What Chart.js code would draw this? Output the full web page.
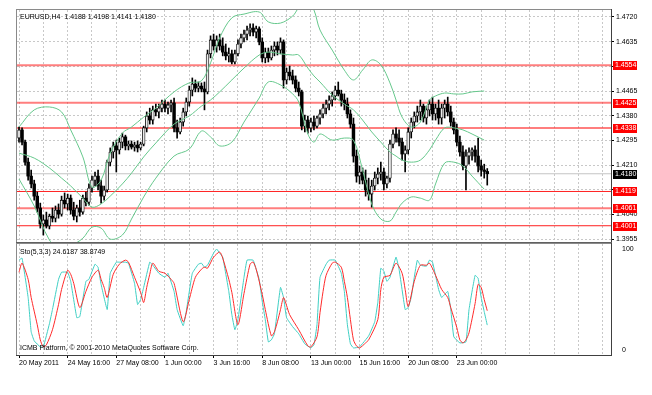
<!DOCTYPE html>
<html><head><meta charset="utf-8">
<script src="https://cdn.jsdelivr.net/npm/chart.js@4.4.1/dist/chart.umd.min.js"></script>
<style>
html,body{margin:0;padding:0;background:#fff;overflow:hidden}
canvas{position:absolute;left:0;display:block}
</style></head><body>
<canvas id="main" width="652" height="243" style="top:0"></canvas>
<canvas id="sto" width="652" height="152" style="top:243px"></canvas>
<script>
// ---------------- DATA ----------------
const barOpen = [1.4303,1.4331,1.4289,1.4220,1.4172,1.4145,1.4103,1.4062,1.4007,1.4021,
1.4000,1.4034,1.4027,1.4055,1.4041,1.4089,1.4076,1.4096,1.4055,1.4034,
1.4062,1.4048,1.4096,1.4082,1.4131,1.4158,1.4172,1.4138,1.4103,1.4124,
1.4220,1.4255,1.4276,1.4262,1.4289,1.4307,1.4276,1.4282,1.4272,1.4279,
1.4269,1.4282,1.4338,1.4379,1.4365,1.4400,1.4393,1.4406,1.4420,1.4406,
1.4417,1.4424,1.4338,1.4324,1.4358,1.4393,1.4427,1.4468,1.4489,1.4475,
1.4482,1.4472,1.4462,1.4593,1.4641,1.4620,1.4641,1.4620,1.4599,1.4586,
1.4593,1.4565,1.4593,1.4627,1.4648,1.4661,1.4675,1.4682,1.4668,1.4679,
1.4634,1.4579,1.4599,1.4579,1.4606,1.4620,1.4606,1.4634,1.4503,1.4530,
1.4517,1.4503,1.4475,1.4462,1.4344,1.4365,1.4338,1.4358,1.4344,1.4372,
1.4386,1.4406,1.4420,1.4434,1.4448,1.4468,1.4455,1.4434,1.4420,1.4386,
1.4351,1.4241,1.4172,1.4186,1.4158,1.4124,1.4110,1.4138,1.4165,1.4179,
1.4186,1.4145,1.4165,1.4282,1.4317,1.4303,1.4289,1.4248,1.4262,1.4324,
1.4358,1.4379,1.4393,1.4413,1.4372,1.4400,1.4420,1.4386,1.4406,1.4372,
1.4406,1.4420,1.4393,1.4358,1.4331,1.4289,1.4255,1.4207,1.4241,1.4255,
1.4262,1.4241,1.4207,1.4193,1.4188];
const barHigh = [1.4341,1.4338,1.4296,1.4234,1.4193,1.4158,1.4117,1.4079,1.4038,1.4048,
1.4041,1.4062,1.4069,1.4076,1.4103,1.4114,1.4110,1.4107,1.4082,1.4072,
1.4089,1.4107,1.4117,1.4145,1.4172,1.4186,1.4193,1.4158,1.4138,1.4227,
1.4269,1.4289,1.4296,1.4303,1.4320,1.4313,1.4293,1.4293,1.4289,1.4293,
1.4289,1.4344,1.4393,1.4406,1.4413,1.4420,1.4420,1.4434,1.4434,1.4427,
1.4434,1.4441,1.4365,1.4372,1.4406,1.4441,1.4482,1.4510,1.4503,1.4496,
1.4493,1.4496,1.4606,1.4655,1.4661,1.4655,1.4661,1.4648,1.4627,1.4613,
1.4606,1.4606,1.4641,1.4661,1.4675,1.4689,1.4696,1.4696,1.4689,1.4686,
1.4648,1.4613,1.4613,1.4620,1.4634,1.4634,1.4648,1.4641,1.4544,1.4551,
1.4537,1.4517,1.4496,1.4468,1.4382,1.4379,1.4372,1.4379,1.4379,1.4400,
1.4420,1.4434,1.4448,1.4462,1.4482,1.4496,1.4468,1.4455,1.4441,1.4400,
1.4372,1.4262,1.4207,1.4200,1.4193,1.4165,1.4158,1.4186,1.4200,1.4220,
1.4200,1.4172,1.4296,1.4331,1.4338,1.4331,1.4303,1.4276,1.4338,1.4372,
1.4393,1.4413,1.4434,1.4420,1.4413,1.4434,1.4444,1.4420,1.4434,1.4420,
1.4434,1.4444,1.4413,1.4372,1.4351,1.4310,1.4276,1.4262,1.4269,1.4269,
1.4276,1.4303,1.4227,1.4213,1.4198];
const barLow = [1.4289,1.4279,1.4210,1.4158,1.4131,1.4089,1.4048,1.3993,1.3969,1.3993,
1.3990,1.4014,1.4014,1.4027,1.4034,1.4062,1.4055,1.4041,1.4021,1.4014,
1.4034,1.4041,1.4069,1.4072,1.4117,1.4138,1.4124,1.4079,1.4089,1.4117,
1.4207,1.4234,1.4186,1.4248,1.4269,1.4262,1.4262,1.4265,1.4258,1.4255,
1.4262,1.4276,1.4324,1.4351,1.4351,1.4379,1.4372,1.4393,1.4393,1.4386,
1.4393,1.4324,1.4303,1.4317,1.4344,1.4379,1.4413,1.4448,1.4462,1.4462,
1.4462,1.4400,1.4455,1.4579,1.4606,1.4599,1.4606,1.4586,1.4572,1.4565,
1.4558,1.4558,1.4586,1.4613,1.4634,1.4641,1.4655,1.4655,1.4648,1.4624,
1.4565,1.4562,1.4565,1.4572,1.4586,1.4589,1.4593,1.4475,1.4489,1.4503,
1.4489,1.4462,1.4448,1.4331,1.4324,1.4320,1.4324,1.4331,1.4338,1.4351,
1.4372,1.4386,1.4400,1.4413,1.4434,1.4448,1.4413,1.4400,1.4372,1.4338,
1.4220,1.4151,1.4145,1.4145,1.4103,1.4089,1.4065,1.4124,1.4145,1.4158,
1.4124,1.4131,1.4151,1.4269,1.4289,1.4276,1.4227,1.4186,1.4248,1.4303,
1.4338,1.4358,1.4365,1.4358,1.4351,1.4379,1.4365,1.4365,1.4351,1.4351,
1.4372,1.4379,1.4344,1.4317,1.4276,1.4241,1.4193,1.4124,1.4213,1.4227,
1.4220,1.4186,1.4172,1.4165,1.4141];
const barClose = [1.4331,1.4289,1.4220,1.4172,1.4145,1.4103,1.4062,1.4007,1.4021,1.4000,
1.4034,1.4027,1.4055,1.4041,1.4089,1.4076,1.4096,1.4055,1.4034,1.4062,
1.4048,1.4096,1.4082,1.4131,1.4158,1.4172,1.4138,1.4103,1.4124,1.4220,
1.4255,1.4276,1.4262,1.4289,1.4307,1.4276,1.4282,1.4272,1.4279,1.4269,
1.4282,1.4338,1.4379,1.4365,1.4400,1.4393,1.4406,1.4420,1.4406,1.4417,
1.4424,1.4338,1.4324,1.4358,1.4393,1.4427,1.4468,1.4489,1.4475,1.4482,
1.4472,1.4462,1.4593,1.4641,1.4620,1.4641,1.4620,1.4599,1.4586,1.4593,
1.4565,1.4593,1.4627,1.4648,1.4661,1.4675,1.4682,1.4668,1.4679,1.4634,
1.4579,1.4599,1.4579,1.4606,1.4620,1.4606,1.4634,1.4503,1.4530,1.4517,
1.4503,1.4475,1.4462,1.4344,1.4365,1.4338,1.4358,1.4344,1.4372,1.4386,
1.4406,1.4420,1.4434,1.4448,1.4468,1.4455,1.4434,1.4420,1.4386,1.4351,
1.4241,1.4172,1.4186,1.4158,1.4124,1.4110,1.4138,1.4165,1.4179,1.4186,
1.4145,1.4165,1.4282,1.4317,1.4303,1.4289,1.4248,1.4262,1.4324,1.4358,
1.4379,1.4393,1.4413,1.4372,1.4400,1.4420,1.4386,1.4406,1.4372,1.4406,
1.4420,1.4393,1.4358,1.4331,1.4289,1.4255,1.4207,1.4241,1.4255,1.4262,
1.4241,1.4207,1.4193,1.4188,1.4180];

// Bollinger Bands (20,2): upper / middle / lower, read at sampled bars
const bandBars = [0,5,10,14,17,21,24,27,30,34,37,41,45,51,56,60,63,66,70,74,79,82,86,90,92,95,97,99,103,107,110,113,116,119,122,124,126,129,132,135,137,140,143,146,149,153];
const bandUpper = [1.4341,1.4400,1.4410,1.4393,1.4331,1.4238,1.4134,1.4158,1.4251,1.4320,1.4341,1.4375,1.4406,1.4462,1.4493,1.4500,1.4562,1.4648,1.4717,1.4730,1.4737,1.4703,1.4699,1.4723,1.4751,1.4772,1.4744,1.4675,1.4606,1.4537,1.4503,1.4537,1.4572,1.4555,1.4493,1.4434,1.4375,1.4341,1.4358,1.4434,1.4448,1.4458,1.4455,1.4455,1.4462,1.4465];
const bandMiddle = [1.4251,1.4234,1.4200,1.4165,1.4138,1.4096,1.4065,1.4076,1.4103,1.4145,1.4182,1.4238,1.4286,1.4351,1.4379,1.4413,1.4434,1.4462,1.4503,1.4544,1.4589,1.4599,1.4593,1.4589,1.4589,1.4544,1.4517,1.4496,1.4451,1.4420,1.4400,1.4365,1.4324,1.4289,1.4255,1.4241,1.4227,1.4220,1.4227,1.4262,1.4296,1.4338,1.4338,1.4331,1.4317,1.4296];
const bandLower = [1.4162,1.4069,1.3952,1.3917,1.3931,1.3958,1.3996,1.3993,1.3955,1.3969,1.4024,1.4100,1.4165,1.4241,1.4265,1.4327,1.4307,1.4276,1.4289,1.4358,1.4441,1.4496,1.4486,1.4455,1.4427,1.4317,1.4289,1.4317,1.4296,1.4303,1.4296,1.4193,1.4076,1.4024,1.4017,1.4048,1.4079,1.4100,1.4096,1.4089,1.4145,1.4217,1.4220,1.4207,1.4172,1.4127];

// Stochastic (5,3,3) — main %K and signal %D, read at sampled bars
const stoKBars = [0,1,3,4,5,7,8,10,11,13,14,16,17,19,20,22,23,25,26,27,29,30,32,33,35,36,38,39,40,41,43,44,46,48,49,51,52,54,55,57,59,60,61,62,64,65,66,67,69,70,71,72,74,75,77,78,79,80,81,82,83,84,86,87,88,90,92,94,96,97,98,99,101,102,104,106,107,108,109,110,112,115,117,118,119,120,121,122,124,125,127,128,129,130,131,132,134,135,136,138,139,141,142,143,145,147,148,150,151,152,153,154];
const stoKVals = [89,91,52,18,9,3,3,26,40,70,77,77,68,32,33,68,70,85,82,65,40,76,87,87,87,86,66,45,50,62,87,84,76,72,76,58,40,24,38,76,85,86,82,84,96,100,96,92,58,35,20,30,72,89,89,80,70,48,30,8,10,16,62,52,32,23,16,6,2,5,25,72,85,89,89,76,58,25,6,2,3,14,28,47,81,78,68,72,92,80,40,42,52,72,89,84,83,89,87,60,52,58,40,13,7,8,40,74,71,52,38,24.6187];
const stoDBars = [0,1,3,4,6,7,8,9,11,13,14,16,17,18,20,22,24,26,27,28,29,31,33,35,36,38,40,41,42,43,44,46,48,50,51,54,56,58,60,61,62,64,66,67,69,70,72,74,76,77,78,80,81,83,84,85,86,87,88,89,92,95,96,98,99,100,101,103,104,106,107,108,109,110,111,112,114,115,118,119,120,122,124,126,127,128,130,132,134,135,137,139,141,142,144,145,146,147,148,150,151,152,153,154];
const stoDVals = [77,86,70,52,25,10,3,5,20,45,60,79,75,66,42,58,72,79,70,62,52,75,85,89,87,72,57,47,62,75,86,78,76,70,66,28,50,72,80,82,81,92,97,91,70,57,25,56,85,87,80,55,40,14,18,28,40,52,44,35,20,4,3,13,37,58,74,86,87,82,68,52,30,10,4,2,7,10,30,60,72,74,86,76,60,43,68,84,84,86,74,60,52,42,22,10,7,10,17,46,65,62,50,38.8749];

// Axis ticks and labels
const gridBars = [0,8,16,24,32,40,48,56,64,72,80,88,96,104,112,120,128,136,144,152,160,168,176,184,192];
const xTickBars = [0,16,32,48,64,80,96,112,128,144];
const xTickLabels = ['20 May 2011','24 May 16:00','27 May 08:00','1 Jun 00:00','3 Jun 16:00','8 Jun 08:00','13 Jun 00:00','15 Jun 16:00','20 Jun 08:00','23 Jun 00:00'];
const priceTicks = [1.3955,1.4040,1.4125,1.4210,1.4295,1.4380,1.4465,1.4550,1.4635,1.4720];
const stoTicks = [0,100];
// Horizontal levels (red lines) and current bid
const levelPrices = [1.4554,1.4425,1.4338,1.4119,1.4061,1.4001];
const levelThick = [true,true,true,false,true,false];
const bidPrice = 1.4180;
const headerText = 'EURUSD,H4  1.4188 1.4198 1.4141 1.4180';
const stoTitle = 'Sto(5,3,3) 24.6187 38.8749';
const footerText = 'ICMB Platform, \u00A9 2001-2010 MetaQuotes Software Corp.';

// ---------------- STYLE ----------------
const FONT = "'Liberation Sans', Arial, sans-serif";
const FS = 7;
const X_MIN = -0.66, X_MAX = 194.7;
const GRID_COL = '#c8c8c8';
const BAND_COL = '#66c88c';

function noPad(s) { s.paddingTop = 0; s.paddingBottom = 0; s.paddingLeft = 0; s.paddingRight = 0; }

function xAxisOpts(showLabels) {
  return {
    type: 'linear', min: X_MIN, max: X_MAX, offset: false,
    afterBuildTicks: s => { s.ticks = gridBars.map(v => ({value: v})); },
    afterFit: s => { s.height = showLabels ? 40 : 0; noPad(s); },
    grid: {
      color: GRID_COL, lineWidth: 1, offset: false, borderDash: [2, 2],
      drawTicks: showLabels, tickLength: 3,
      tickColor: c => (c.tick && xTickBars.includes(c.tick.value)) ? '#000' : 'rgba(0,0,0,0)'
    },
    border: {display: false, dash: [2, 2]},
    ticks: {
      display: showLabels, autoSkip: false, maxRotation: 0, minRotation: 0, align: 'start', padding: 1,
      font: {family: FONT, size: FS}, color: '#000',
      callback: v => { const k = xTickBars.indexOf(v); return k >= 0 ? xTickLabels[k] : ''; }
    }
  };
}

const frame = {
  id: 'frame',
  afterDraw(chart, args, o) {
    const {ctx, chartArea: a} = chart;
    ctx.save();
    ctx.strokeStyle = '#8a8a8a'; ctx.lineWidth = 1;
    ctx.strokeRect(a.left - 0.5, a.top - 0.5, a.right - a.left + 1, a.bottom - a.top + 1);
    ctx.strokeStyle = '#404040';
    ctx.beginPath(); ctx.moveTo(a.right + 0.5, a.top - 1); ctx.lineTo(a.right + 0.5, a.bottom + 1); ctx.stroke();
    ctx.font = FS + 'px ' + FONT; ctx.textBaseline = 'middle'; ctx.textAlign = 'left'; ctx.fillStyle = '#000';
    if (o.kind === 'main') {
      ctx.fillStyle = '#606060'; ctx.fillRect(a.left - 1, a.bottom, a.right - a.left + 2, 2);
      ctx.fillStyle = '#000';
      ctx.fillText(headerText, 20, 17);
      const ys = chart.scales.y;
      const boxes = levelPrices.map(p => [p, '#ff0000']).concat([[bidPrice, '#000000']]);
      boxes.forEach(([p, col]) => {
        const y = Math.round(ys.getPixelForValue(p));
        ctx.fillStyle = col; ctx.fillRect(a.right + 2, y - 4, 24, 9);
        ctx.fillStyle = '#fff'; ctx.fillText(p.toFixed(4), a.right + 4, y + 0.5);
      });
    } else {
      ctx.fillStyle = '#404040'; ctx.fillRect(a.left - 1, a.bottom, a.right - a.left + 2, 1);
      ctx.fillStyle = '#000';
      ctx.fillText(stoTitle, 20, 9);
      ctx.fillText(footerText, 20, 105.5);
    }
    ctx.restore();
  }
};

// ---------------- MAIN CHART ----------------
const wickData = barHigh.map((h, i) => ({x: i, y: [barLow[i], h]}));
const bodyData = barOpen.map((o, i) => ({x: i, y: [o, barClose[i]]}));
const bull = barOpen.map((o, i) => barClose[i] >= o);
const levelSets = levelPrices.map((p, k) => ({
  type: 'line', data: [{x: X_MIN, y: p}, {x: X_MAX, y: p}],
  borderColor: levelThick[k] ? 'rgba(255,40,40,0.6)' : '#ff2020', borderWidth: levelThick[k] ? 2 : 1,
  pointRadius: 0, order: 6
}));
const bandSet = vals => ({type: 'line', data: bandBars.map((b, i) => ({x: b, y: vals[i]})),
  borderColor: BAND_COL, borderWidth: 1, pointRadius: 0, tension: 0.35, order: 0});

new Chart(document.getElementById('main'), {
  type: 'bar',
  data: {
    datasets: [
      bandSet(bandUpper), bandSet(bandMiddle), bandSet(bandLower),
      {type: 'bar', data: bodyData, grouped: false, barThickness: 2.8, borderSkipped: false,
       backgroundColor: bull.map(b => b ? '#ececec' : '#000'), borderColor: '#000', borderWidth: bull.map(b => b ? 0.8 : 0), order: 1},
      {type: 'bar', data: wickData, grouped: false, barThickness: 1, backgroundColor: '#000', borderWidth: 0, order: 2},
      {type: 'line', data: [{x: X_MIN, y: bidPrice}, {x: X_MAX, y: bidPrice}], borderColor: '#c4c4c4', borderWidth: 1, pointRadius: 0, order: 5},
      ...levelSets
    ]
  },
  options: {
    responsive: false, animation: false, events: [],
    layout: {padding: {left: 17, top: 10, right: 0, bottom: 1}},
    plugins: {legend: {display: false}, tooltip: {enabled: false}, frame: {kind: 'main'}},
    scales: {
      x: xAxisOpts(false),
      y: {
        position: 'right', min: 1.3945, max: 1.4744, beginAtZero: false,
        afterBuildTicks: s => { s.ticks = priceTicks.map(v => ({value: v})); },
        afterFit: s => { s.width = 41; noPad(s); },
        grid: {color: GRID_COL, borderDash: [2, 2], drawTicks: true, tickLength: 3, tickColor: '#000'},
        border: {display: false, dash: [2, 2]},
        ticks: {font: {family: FONT, size: FS}, color: '#000', padding: 2,
          callback: v => levelPrices.some(p => Math.abs(p - v) < 0.0012) ? '' : v.toFixed(4)}
      }
    }
  },
  plugins: [frame]
});

// ---------------- STOCHASTIC ----------------
new Chart(document.getElementById('sto'), {
  type: 'line',
  data: {
    datasets: [
      {data: stoDBars.map((b, i) => ({x: b, y: stoDVals[i]})), borderColor: '#ff2a2a', borderWidth: 1, pointRadius: 0, tension: 0.25, order: 0},
      {data: stoKBars.map((b, i) => ({x: b, y: stoKVals[i]})), borderColor: '#3fcfc4', borderWidth: 1, pointRadius: 0, tension: 0.1, order: 1}
    ]
  },
  options: {
    responsive: false, animation: false, events: [],
    layout: {padding: {left: 17, top: 1, right: 0, bottom: 0}},
    plugins: {legend: {display: false}, tooltip: {enabled: false}, frame: {kind: 'sto'}},
    scales: {
      x: xAxisOpts(true),
      y: {
        position: 'right', min: -5, max: 105,
        afterBuildTicks: s => { s.ticks = stoTicks.map(v => ({value: v})); },
        afterFit: s => { s.width = 41; noPad(s); },
        grid: {display: false},
        border: {display: false},
        ticks: {font: {family: FONT, size: FS}, color: '#000', padding: 3}
      }
    }
  },
  plugins: [frame]
});
</script>
</body></html>
